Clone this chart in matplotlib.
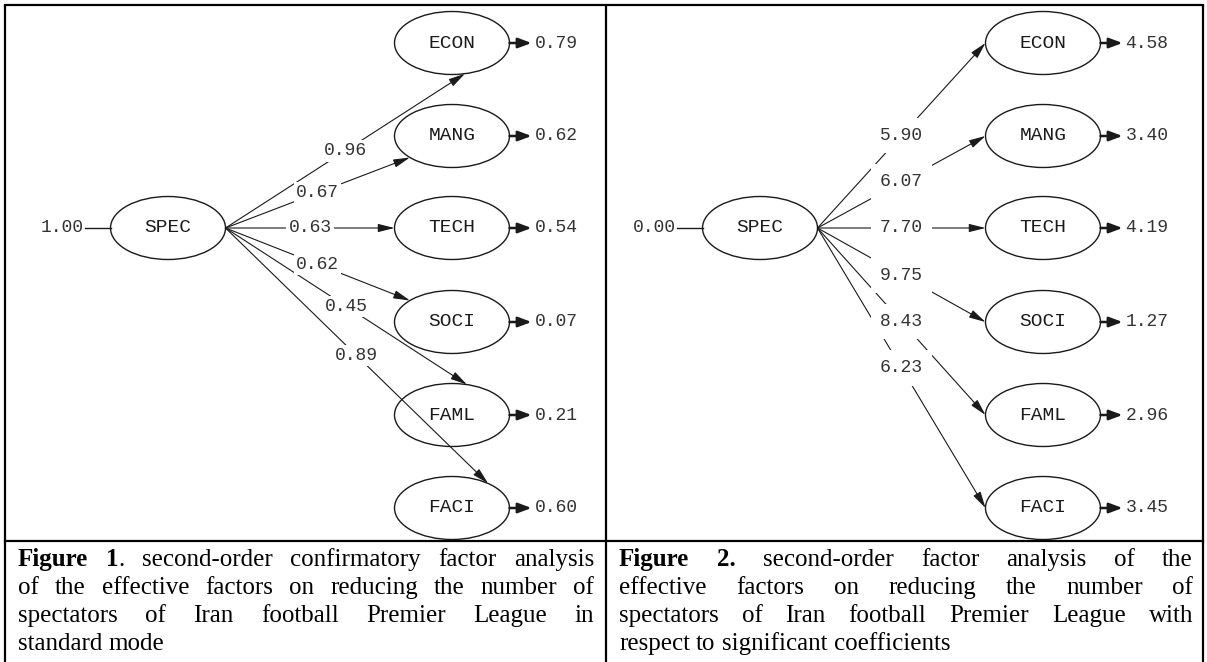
import matplotlib
matplotlib.use("Agg")
import numpy as np
import matplotlib.pyplot as plt
from matplotlib.patches import Ellipse, FancyArrowPatch

# ---- data ----
factors = ["ECON", "MANG", "TECH", "SOCI", "FAML", "FACI"]
std_loadings = [0.96, 0.67, 0.63, 0.62, 0.45, 0.89]
std_errors = [0.79, 0.62, 0.54, 0.07, 0.21, 0.60]
t_loadings = [5.90, 6.07, 7.70, 9.75, 8.43, 6.23]
t_errors = [4.58, 3.40, 4.19, 1.27, 2.96, 3.45]
spec_std = 1.00
spec_t = 0.00

caption1 = [
    "**Figure 1**. second-order confirmatory factor analysis",
    "of the effective factors on reducing the number of",
    "spectators of Iran football Premier League in",
    "standard mode",
]
caption2 = [
    "**Figure 2.** second-order factor analysis of the",
    "effective factors on reducing the number of",
    "spectators of Iran football Premier League with",
    "respect to significant coefficients",
]

# ---- layout (pixels) ----
W, H = 1207, 662
ROW_Y = [43, 136, 228, 322, 415, 508]
SPEC_Y = 228
EW, EH = 115, 63
INK = "#1a1a1a"
NUM = "#333333"
MONO = "Liberation Mono"
SERIF = "Liberation Serif"

fig = plt.figure(figsize=(W / 100, H / 100), dpi=100)
ax = fig.add_axes([0, 0, 1, 1])
ax.set_xlim(0, W)
ax.set_ylim(H, 0)
ax.axis("off")


def on_ellipse(cx, cy, deg):
    t = np.radians(deg)
    return cx + EW / 2 * np.cos(t), cy + EH / 2 * np.sin(t)


def draw_panel(spec_x, tgt_x, spec_val, loads, errs, tip_deg, pad):
    # latent SPEC + its variance
    ax.add_patch(Ellipse((spec_x, SPEC_Y), EW, EH, fc="none", ec=INK, lw=1.0, zorder=3))
    ax.text(spec_x, SPEC_Y, "SPEC", family=MONO, fontsize=14, ha="center", va="center", color=INK)
    ax.plot([spec_x - EW / 2 - 26, spec_x - EW / 2], [SPEC_Y, SPEC_Y], color=INK, lw=1.0)
    ax.text(spec_x - EW / 2 - 27, SPEC_Y, f"{spec_val:.2f}", family=MONO, fontsize=13,
            ha="right", va="center", color=NUM)

    src = (spec_x + EW / 2, SPEC_Y)
    for name, y, ld, er, deg in zip(factors, ROW_Y, loads, errs, tip_deg):
        ax.add_patch(Ellipse((tgt_x, y), EW, EH, fc="none", ec=INK, lw=1.0, zorder=3))
        ax.text(tgt_x, y, name, family=MONO, fontsize=14, ha="center", va="center", color=INK)

        tip = on_ellipse(tgt_x, y, deg)
        ax.add_patch(FancyArrowPatch(src, tip, arrowstyle="-|>,head_length=1.0,head_width=0.25",
                                     mutation_scale=10, lw=0.8, color=INK,
                                     shrinkA=0, shrinkB=0, zorder=2))
        mx, my = (src[0] + tip[0]) / 2, (src[1] + tip[1]) / 2
        ax.text(mx, my, f"{ld:.2f}", family=MONO, fontsize=13, ha="center", va="center",
                color=NUM, zorder=5,
                bbox=dict(boxstyle=f"square,pad={pad}", fc="white", ec="none"))

        # error term
        ex = tgt_x + EW / 2
        ax.add_patch(FancyArrowPatch((ex, y), (ex + 22, y),
                                     arrowstyle="-|>,head_length=0.8,head_width=0.3",
                                     mutation_scale=10, lw=1.8, color=INK,
                                     shrinkA=0, shrinkB=0, zorder=2))
        ax.text(ex + 25, y, f"{er:.2f}", family=MONO, fontsize=13, ha="left", va="center", color=NUM)


draw_panel(168, 452, spec_std, std_loadings, std_errors, [77, 137, 180, 223, -75, -51], 0.12)
draw_panel(760, 1043, spec_t, t_loadings, t_errors, [180] * 6, 0.5)

# ---- table borders ----
LEFT, MID, RIGHT, TOP, HLINE = 5, 606, 1203, 5, 541
for x in (LEFT, MID, RIGHT):
    ax.plot([x, x], [TOP, H], color="black", lw=1.6, solid_capstyle="butt")
ax.plot([LEFT, RIGHT], [TOP, TOP], color="black", lw=1.6)
ax.plot([LEFT, RIGHT], [HLINE, HLINE], color="black", lw=1.6)

# ---- justified captions ----
renderer = fig.canvas.get_renderer()
CAP_FS = 18
LINE_Y = [566, 594, 622, 650]


def parse_words(line):
    words, cur = [], []
    for i, seg in enumerate(line.split("**")):
        bold = i % 2 == 1
        for j, part in enumerate(seg.split(" ")):
            if j > 0 and cur:
                words.append(cur)
                cur = []
            if part:
                cur.append((part, bold))
    if cur:
        words.append(cur)
    return words


def run_width(s, bold):
    t = ax.text(0, 0, s, family=SERIF, fontsize=CAP_FS, fontweight="bold" if bold else "normal")
    w = t.get_window_extent(renderer).width
    t.remove()
    return w


space_w = run_width("a a", False) - run_width("aa", False)


def draw_caption(lines, x0, x1):
    for k, (line, y) in enumerate(zip(lines, LINE_Y)):
        words = parse_words(line)
        widths = [[run_width(s, b) for s, b in w] for w in words]
        total = sum(sum(w) for w in widths)
        last = k == len(lines) - 1
        gap = space_w if last or len(words) < 2 else (x1 - x0 - total) / (len(words) - 1)
        x = x0
        for word, ws in zip(words, widths):
            for (s, b), rw in zip(word, ws):
                ax.text(x, y, s, family=SERIF, fontsize=CAP_FS,
                        fontweight="bold" if b else "normal", ha="left", va="baseline", color="black")
                x += rw
            x += gap


draw_caption(caption1, 18, 594)
draw_caption(caption2, 619, 1193)

fig.savefig("out.png", dpi=100, facecolor="white")
